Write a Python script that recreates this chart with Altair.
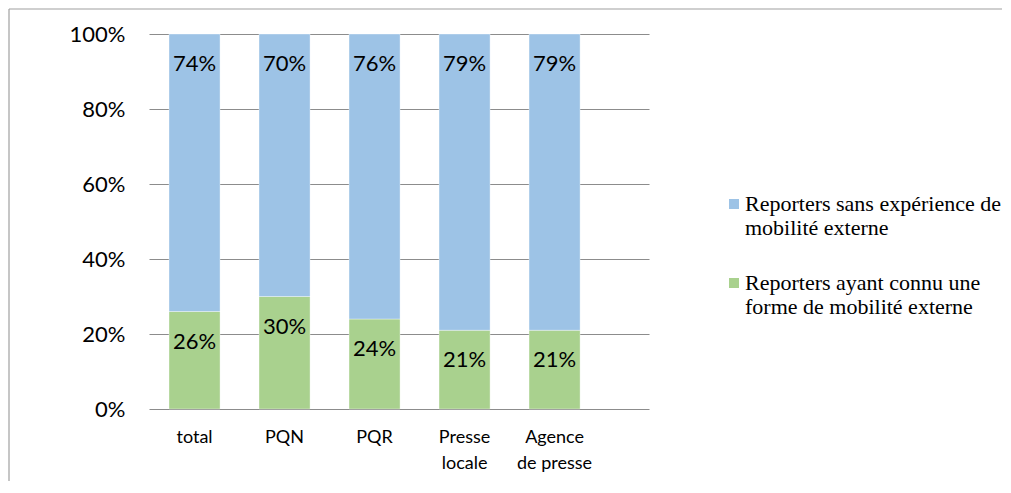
import altair as alt
import pandas as pd

categories = ["total", "PQN", "PQR", "Presse locale", "Agence de presse"]
avec_mobilite = [0.26, 0.30, 0.24, 0.21, 0.21]
sans_mobilite = [0.74, 0.70, 0.76, 0.79, 0.79]
series_names = [
    "Reporters sans expérience de mobilité externe",
    "Reporters ayant connu une forme de mobilité externe",
]
series_colors = ["#9DC3E6", "#A9D18E"]

rows = []
for c, g, b in zip(categories, avec_mobilite, sans_mobilite):
    rows.append({"cat": c, "serie": series_names[1], "value": g, "ord": 0})
    rows.append({"cat": c, "serie": series_names[0], "value": b, "ord": 1})
df = pd.DataFrame(rows)

H = 375
W = 500

x_enc = alt.X(
    "cat:N",
    sort=categories,
    title=None,
    scale=alt.Scale(paddingInner=0.433, paddingOuter=0.494, align=0.225),
    axis=alt.Axis(
        labelAngle=0, domain=False, ticks=False, labelFont="Lato", labelFontSize=18,
        labelColor="#000000", labelPadding=19, labelBaseline="top", labelLineHeight=26,
        labelExpr="datum.value == 'Presse locale' ? ['Presse', 'locale'] : datum.value == 'Agence de presse' ? ['Agence', 'de presse'] : datum.label",
    ),
)

base = alt.Chart(df).transform_stack(
    stack="value", as_=["v0", "v1"], groupby=["cat"], sort=[alt.SortField("ord")]
)

bars = base.mark_bar(stroke="#ffffff", strokeWidth=0.6, strokeOpacity=0.6).encode(
    x=x_enc,
    y=alt.Y(
        "v0:Q",
        scale=alt.Scale(domain=[0, 1]),
        title=None,
        axis=alt.Axis(
            values=[0, 0.2, 0.4, 0.6, 0.8, 1.0], format=".0%", domain=False, ticks=False,
            labelFont="Lato", labelFontSize=22, labelColor="#000000", labelPadding=24,
            gridColor="#8c8c8c", gridWidth=1.2,
        ),
    ),
    y2="v1:Q",
    color=alt.Color(
        "serie:N",
        scale=alt.Scale(domain=series_names, range=series_colors),
        legend=alt.Legend(
            title=None, orient="none", legendX=574, legendY=159,
            labelFont="Liberation Serif", labelFontSize=22, labelColor="#000000",
            labelLimit=500, labelOffset=0, rowPadding=33, padding=0,
            symbolType="square", symbolSize=100, symbolStrokeWidth=0,
            labelBaseline="middle",
            labelExpr="datum.label == 'Reporters sans expérience de mobilité externe' ? ['Reporters sans expérience de', 'mobilité externe'] : ['Reporters ayant connu une', 'forme de mobilité externe']",
        ),
    ),
    order=alt.Order("ord:Q"),
)

labels = base.mark_text(
    font="Lato", fontSize=22, color="#000000", baseline="middle", dy=30
).encode(
    x=alt.X("cat:N", sort=categories),
    y=alt.Y("v1:Q"),
    text=alt.Text("value:Q", format=".0%"),
)

frame_top = alt.Chart(pd.DataFrame({"a": [0]})).mark_rule(color="#a0a0a0", strokeWidth=1.2).encode(
    x=alt.value(-140), x2=alt.value(853), y=alt.value(-25)
)
frame_left = alt.Chart(pd.DataFrame({"a": [0]})).mark_rule(color="#a0a0a0", strokeWidth=1.2).encode(
    x=alt.value(-140), y=alt.value(-25), y2=alt.value(447)
)

chart = alt.layer(frame_top, frame_left, bars, labels).properties(
    width=W, height=H, padding=0, background="#ffffff"
).configure_view(stroke="transparent", strokeWidth=0)

chart.save("out.html", embed_options={"renderer": "svg", "actions": False})
